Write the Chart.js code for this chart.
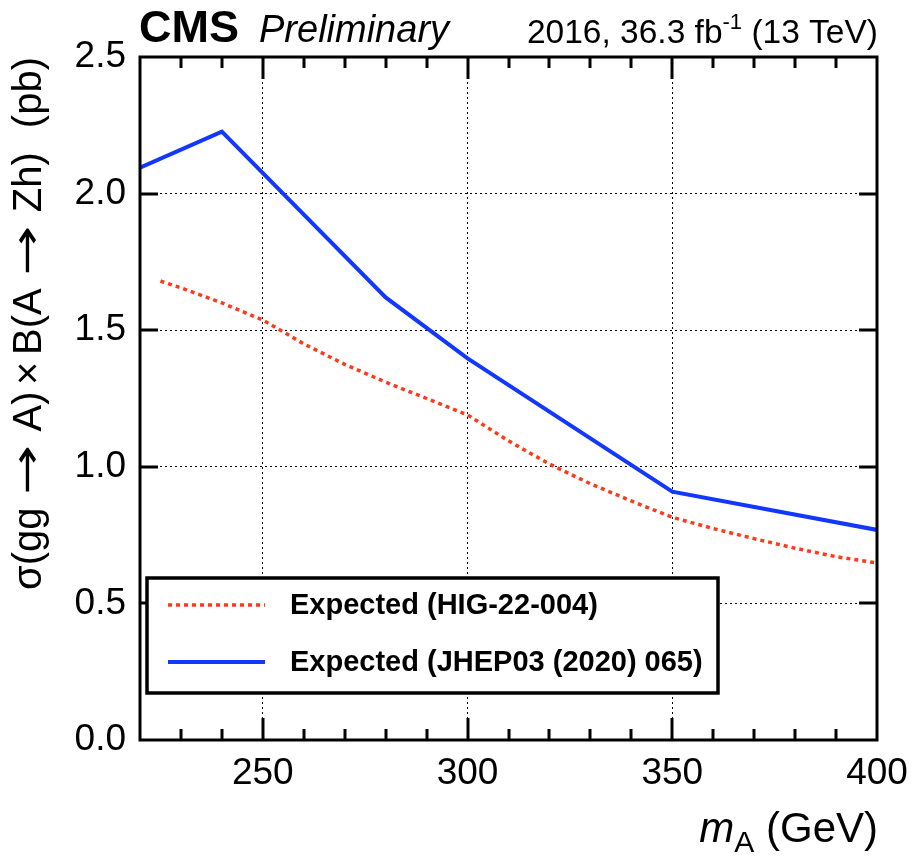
<!DOCTYPE html>
<html><head><meta charset="utf-8">
<script src="https://cdn.jsdelivr.net/npm/chart.js@4.4.1/dist/chart.umd.min.js"></script>
<style>html,body{margin:0;padding:0;background:#fff;}#wrap{width:915px;height:862px;position:relative;}</style>
</head><body><div id="wrap"><canvas id="c" width="915" height="862"></canvas></div>
<script>
// ---- data ----
const massExpNew = [225,230,240,250,260,270,280,290,300,310,320,330,340,350,360,370,380,390,400];
const xsecExpNew = [1.68,1.655,1.60,1.537,1.45,1.375,1.31,1.25,1.19,1.095,1.01,0.938,0.875,0.815,0.774,0.737,0.702,0.671,0.648];
const massExpOld = [220,240,280,300,350,400];
const xsecExpOld = [2.095,2.227,1.62,1.397,0.909,0.769];
const labelNew = 'Expected (HIG-22-004)';
const labelOld = 'Expected (JHEP03 (2020) 065)';
const xTicks = [250,300,350,400];
const yTicks = [0,0.5,1.0,1.5,2.0,2.5];
const xMinorStep = 10;
const xRange = [220,400];
const yRange = [0,2.5];

const FONT = '"Liberation Sans", Arial, Helvetica, sans-serif';
const RED = '#ff3a1a';
const BLUE = '#1238ff';

function drawYTitle(ctx, a) {
  const parts = ['\u03C3(gg', '\u2192', 'A)', '\u00D7', 'B(A', '\u2192', 'Zh)', ' ', '(pb)'];
  const total = 533;
  ctx.save();
  ctx.translate(41, a.top + total);
  ctx.rotate(-Math.PI/2);
  ctx.textAlign = 'left';
  ctx.textBaseline = 'alphabetic';
  ctx.fillStyle = '#000';
  const tf = '40px ' + FONT;
  const af = '40px "DejaVu Sans", sans-serif';
  const arrowW = 50;
  let fixed = 0, nGaps = 0;
  parts.forEach(p => {
    if (p === '\u2192') { fixed += arrowW; nGaps += 2; }
    else { ctx.font = tf; fixed += ctx.measureText(p).width; if (p === '\u00D7' || p === ' ') nGaps += 1; }
  });
  const gap = Math.max(0, (total - fixed) / nGaps);
  let pos = 0;
  parts.forEach(p => {
    if (p === '\u2192') {
      pos += gap;
      ctx.font = af;
      const w = ctx.measureText(p).width;
      ctx.save();
      ctx.translate(pos, -1);
      ctx.scale(arrowW / w, 1);
      ctx.fillText(p, 0, 0);
      ctx.restore();
      pos += arrowW + gap;
    } else {
      ctx.font = tf;
      const w = ctx.measureText(p).width;
      if (p === '\u00D7' || p === ' ') { pos += gap / 2; ctx.fillText(p, pos, 0); pos += w + gap / 2; }
      else { ctx.fillText(p, pos, 0); pos += w; }
    }
  });
  ctx.restore();
}

const decorPlugin = {
  id:'decor',
  afterDatasetsDraw(chart){
    const {ctx, chartArea:a, scales:{x,y}} = chart;
    ctx.save();
    ctx.strokeStyle = '#000';
    ctx.lineCap = 'butt';
    ctx.lineWidth = 3;
    for (let v = xRange[0] + xMinorStep; v < xRange[1]; v += xMinorStep) {
      const px = Math.round(x.getPixelForValue(v));
      const len = (v % 50 === 0) ? 22 : 11;
      ctx.beginPath();
      ctx.moveTo(px, a.bottom); ctx.lineTo(px, a.bottom - len);
      ctx.moveTo(px, a.top); ctx.lineTo(px, a.top + len);
      ctx.stroke();
    }
    for (const v of yTicks) {
      if (v <= yRange[0] || v >= yRange[1]) continue;
      const py = Math.round(y.getPixelForValue(v));
      ctx.beginPath();
      ctx.moveTo(a.left, py); ctx.lineTo(a.left + 18, py);
      ctx.moveTo(a.right, py); ctx.lineTo(a.right - 18, py);
      ctx.stroke();
    }
    ctx.lineWidth = 3;
    ctx.strokeRect(a.left, a.top, a.right - a.left, a.bottom - a.top);

    // legend
    const lx = 147, ly = 578, lw = 571, lh = 115;
    ctx.fillStyle = '#fff';
    ctx.fillRect(lx, ly, lw, lh);
    ctx.lineWidth = 3.5;
    ctx.strokeRect(lx, ly, lw, lh);
    const ds = chart.data.datasets;
    const entries = [ds[1], ds[0]];
    const rows = [605, 662];
    entries.forEach((d, i) => {
      ctx.save();
      ctx.strokeStyle = d.borderColor;
      ctx.lineWidth = d.borderWidth;
      ctx.setLineDash(d.borderDash || []);
      ctx.beginPath();
      ctx.moveTo(168, rows[i]); ctx.lineTo(265, rows[i]);
      ctx.stroke();
      ctx.restore();
      ctx.fillStyle = '#000';
      ctx.font = 'bold 29px ' + FONT;
      ctx.textAlign = 'left';
      ctx.textBaseline = 'middle';
      ctx.fillText(d.label, 290, rows[i] + 1);
    });

    // header
    ctx.fillStyle = '#000';
    ctx.textBaseline = 'alphabetic';
    ctx.textAlign = 'left';
    ctx.font = 'bold 45px ' + FONT;
    ctx.fillText('CMS', 139, 42);
    ctx.font = 'italic 38px ' + FONT;
    ctx.fillText('Preliminary', 259, 42);
    const p1 = '2016, 36.3 fb', sup = '-1', p2 = ' (13 TeV)';
    ctx.font = '33.5px ' + FONT;
    const w1 = ctx.measureText(p1).width, w3 = ctx.measureText(p2).width;
    ctx.font = '22px ' + FONT;
    const w2 = ctx.measureText(sup).width;
    let sx = a.right + 1 - (w1 + w2 + w3);
    ctx.font = '33.5px ' + FONT;
    ctx.fillText(p1, sx, 43);
    ctx.font = '22px ' + FONT;
    ctx.fillText(sup, sx + w1, 29);
    ctx.font = '33.5px ' + FONT;
    ctx.fillText(p2, sx + w1 + w2, 43);

    // x title
    ctx.font = '42px ' + FONT;
    const g = ' (GeV)';
    const wg = ctx.measureText(g).width;
    ctx.font = '30px ' + FONT;
    const wa = ctx.measureText('A').width;
    ctx.font = 'italic 42px ' + FONT;
    const wm = ctx.measureText('m').width;
    let tx = a.right + 1 - (wm + wa + wg);
    ctx.fillText('m', tx, 842);
    ctx.font = '30px ' + FONT;
    ctx.fillText('A', tx + wm, 852);
    ctx.font = '42px ' + FONT;
    ctx.fillText(g, tx + wm + wa, 842);

    drawYTitle(ctx, a);
    ctx.restore();
  }
};

const ctx = document.getElementById('c').getContext('2d');
new Chart(ctx, {
  type:'line',
  data:{datasets:[
    {label:labelOld, data:massExpOld.map((m,i)=>({x:m,y:xsecExpOld[i]})), borderColor:BLUE, borderWidth:4, pointRadius:0, tension:0, fill:false},
    {label:labelNew, data:massExpNew.map((m,i)=>({x:m,y:xsecExpNew[i]})), borderColor:RED, borderWidth:3.5, borderDash:[4,4], pointRadius:0, tension:0, fill:false}
  ]},
  options:{
    responsive:false, animation:false, devicePixelRatio:1,
    layout:{padding:{top:57,right:38,left:0,bottom:0}},
    plugins:{legend:{display:false}, tooltip:{enabled:false}, title:{display:false}},
    scales:{
      x:{type:'linear', min:xRange[0], max:xRange[1],
        afterBuildTicks:s=>{s.ticks = xTicks.map(v=>({value:v}));},
        afterFit:s=>{s.height = 122; s.paddingLeft = 0; s.paddingRight = 0;},
        grid:{color:c=>(c.tick && c.tick.value>xRange[0] && c.tick.value<xRange[1])?'#000':'rgba(0,0,0,0)', lineWidth:1, drawTicks:false},
        border:{display:false, dash:[2,3]},
        ticks:{color:'#000', font:{family:FONT, size:37}, padding:12, maxRotation:0, autoSkip:false}
      },
      y:{type:'linear', min:yRange[0], max:yRange[1],
        afterBuildTicks:s=>{s.ticks = yTicks.map(v=>({value:v}));},
        afterFit:s=>{s.width = 140; s.paddingTop = 0; s.paddingBottom = 0;},
        grid:{color:c=>(c.tick && c.tick.value>yRange[0] && c.tick.value<yRange[1])?'#000':'rgba(0,0,0,0)', lineWidth:1, drawTicks:false},
        border:{display:false, dash:[2,3]},
        ticks:{color:'#000', font:{family:FONT, size:37}, padding:14, callback:v=>Number(v).toFixed(1), autoSkip:false}
      }
    }
  },
  plugins:[decorPlugin]
});
</script></body></html>
